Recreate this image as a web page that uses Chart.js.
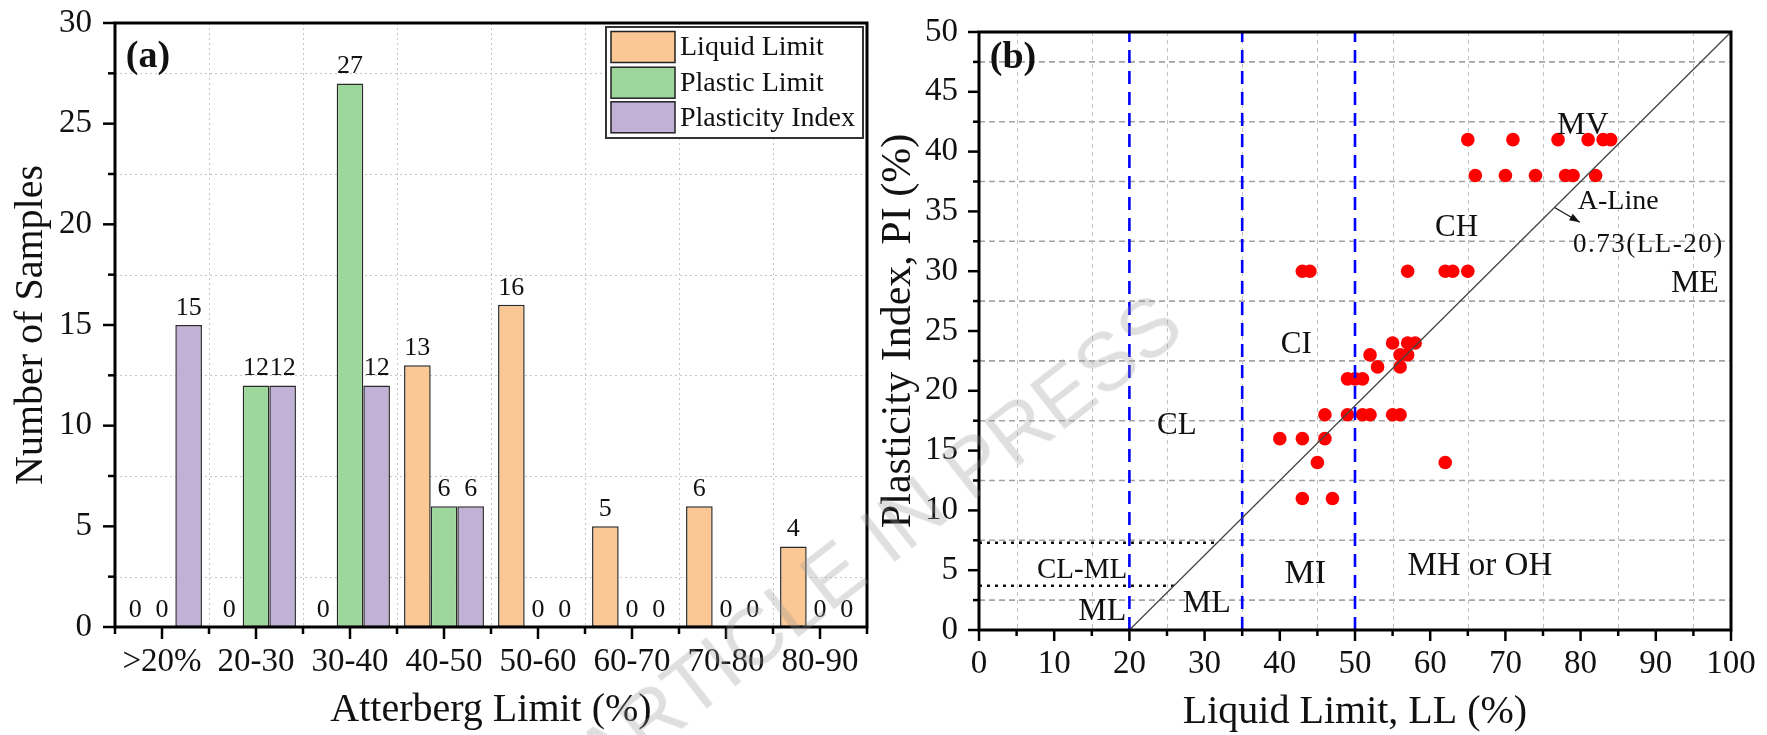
<!DOCTYPE html>
<html>
<head>
<meta charset="utf-8">
<script src="https://cdn.jsdelivr.net/npm/chart.js@4.4.1/dist/chart.umd.min.js"></script>
<style>
    body { margin: 0; width: 1767px; height: 735px; background: #fff; position: relative; overflow: hidden; }
    #chartA { position: absolute; left: 0; top: 0; }
    #chartB { position: absolute; left: 870px; top: 0; }
    #stamp {
        position: absolute; left: 878px; top: 540px;
        transform: translate(-50%, -50%) rotate(-38deg);
        font-family: 'Liberation Sans', Arial, sans-serif; font-size: 81px;
        color: rgba(150, 150, 150, 0.3); white-space: nowrap; pointer-events: none;
    }
</style>
</head>
<body>
<canvas id="chartA" width="872" height="735"></canvas>
<canvas id="chartB" width="897" height="735"></canvas>
<div id="stamp">ARTICLE IN PRESS</div>
<script>
var serif = "'Liberation Serif', 'Times New Roman', serif";

// (a) counts per range
var ranges = ['>20%', '20-30', '30-40', '40-50', '50-60', '60-70', '70-80', '80-90'];
var liquidLimit = [0, 0, 0, 13, 16, 5, 6, 4];
var plasticLimit = [0, 12, 27, 6, 0, 0, 0, 0];
var plasticityIndex = [15, 12, 12, 6, 0, 0, 0, 0];

// (b) samples on the plasticity chart
var sampleLL = [65, 71, 77, 81, 83, 84,
    66, 70, 74, 78, 79, 82,
    43, 44, 57, 62, 63, 65,
    55, 57, 58,
    52, 56, 57,
    53, 56,
    49, 50, 51,
    46, 49, 51, 52, 55, 56,
    40, 43, 46,
    45, 62,
    43, 47];
var samplePI = [41, 41, 41, 41, 41, 41,
    38, 38, 38, 38, 38, 38,
    30, 30, 30, 30, 30, 30,
    24, 24, 24,
    23, 23, 23,
    22, 22,
    21, 21, 21,
    18, 18, 18, 18, 18, 18,
    16, 16, 16,
    14, 14,
    11, 11];

// A-line and zone boundaries
var aLineLL = [20, 100];
var aLinePI = [0, 50];
var zoneLL = [20, 35, 50];
var ctMlPI = [7.3, 3.7];

function line(ctx, x1, y1, x2, y2) {
    ctx.beginPath();
    ctx.moveTo(x1, y1);
    ctx.lineTo(x2, y2);
    ctx.stroke();
}

function frame(ctx, area) {
    ctx.save();
    ctx.setLineDash([]);
    ctx.strokeStyle = '#000';
    ctx.lineWidth = 3;
    ctx.strokeRect(area.left, area.top, area.right - area.left, area.bottom - area.top);
    ctx.restore();
}

// fixed axis sizes so the plot area lands where we want it
function fixSize(w, h) {
    return function (s) {
        if (w) s.width = w;
        if (h) s.height = h;
        s.paddingTop = 0;
        s.paddingBottom = 0;
        s.paddingLeft = 0;
        s.paddingRight = 0;
    };
}

var gridA = {
    id: 'gridA',
    beforeDatasetsDraw: function (chart) {
        var ctx = chart.ctx, a = chart.chartArea;
        var xs = chart.scales.x, ys = chart.scales.y;
        ctx.save();
        ctx.strokeStyle = '#c6c6c6';
        ctx.lineWidth = 1;
        ctx.setLineDash([2, 3]);
        for (var v = 2.5; v < 30; v += 5) {
            var y = Math.round(ys.getPixelForValue(v)) + 0.5;
            line(ctx, a.left, y, a.right, y);
        }
        for (var i = 0; i < ranges.length - 1; i++) {
            var x = Math.round(xs.getPixelForValue(i + 0.5)) + 0.5;
            line(ctx, x, a.top, x, a.bottom);
        }
        ctx.restore();
    },
    afterDatasetsDraw: function (chart) {
        var ctx = chart.ctx, a = chart.chartArea;
        var xs = chart.scales.x, ys = chart.scales.y;

        // values above the bars
        ctx.save();
        ctx.fillStyle = '#111';
        ctx.font = '26px ' + serif;
        ctx.textAlign = 'center';
        ctx.textBaseline = 'bottom';
        chart.data.datasets.forEach(function (ds, d) {
            chart.getDatasetMeta(d).data.forEach(function (bar, i) {
                ctx.fillText(ds.data[i], bar.x, bar.y - 4);
            });
        });
        ctx.restore();

        frame(ctx, a);

        ctx.save();
        ctx.strokeStyle = '#000';
        ctx.lineWidth = 2.5;
        for (var v = 0; v <= 30; v += 2.5) {
            var y = ys.getPixelForValue(v);
            line(ctx, a.left - (v % 5 == 0 ? 12 : 7), y, a.left, y);
        }
        for (var i = -0.5; i <= ranges.length - 0.5; i += 0.5) {
            var x = xs.getPixelForValue(i);
            line(ctx, x, a.bottom, x, a.bottom + (Number.isInteger(i) ? 12 : 7));
        }
        ctx.restore();

        // panel tag
        ctx.save();
        ctx.fillStyle = '#111';
        ctx.font = 'bold 38px ' + serif;
        ctx.textAlign = 'center';
        ctx.textBaseline = 'middle';
        ctx.fillText('(a)', a.left + 33, a.top + 34);
        ctx.restore();

        // legend box
        var bw = 257, bh = 111;
        var bx = a.right - 4 - bw, by = a.top + 4;
        ctx.save();
        ctx.fillStyle = '#fff';
        ctx.fillRect(bx, by, bw, bh);
        ctx.strokeStyle = '#333';
        ctx.lineWidth = 2;
        ctx.strokeRect(bx, by, bw, bh);
        ctx.font = '28px ' + serif;
        ctx.textBaseline = 'middle';
        ctx.textAlign = 'left';
        var rows = [20, 55.7, 90.3];
        chart.data.datasets.forEach(function (ds, d) {
            var cy = by + rows[d];
            ctx.fillStyle = ds.backgroundColor;
            ctx.fillRect(bx + 5, cy - 15.5, 64, 31);
            ctx.strokeStyle = '#222';
            ctx.lineWidth = 1.5;
            ctx.strokeRect(bx + 5, cy - 15.5, 64, 31);
            ctx.fillStyle = '#111';
            ctx.fillText(ds.label, bx + 74, cy + 1);
        });
        ctx.restore();
    }
};

var graphA = new Chart(document.getElementById('chartA'), {
    type: 'bar',
    data: {
        labels: ranges,
        datasets: [{
            label: 'Liquid Limit',
            data: liquidLimit,
            backgroundColor: '#fbc794'
        }, {
            label: 'Plastic Limit',
            data: plasticLimit,
            backgroundColor: '#9ed79b'
        }, {
            label: 'Plasticity Index',
            data: plasticityIndex,
            backgroundColor: '#c1b1d6'
        }]
    },
    options: {
        responsive: false,
        animation: false,
        devicePixelRatio: 1,
        layout: { padding: { top: 23, right: 5, left: 0, bottom: 0 } },
        datasets: {
            bar: {
                categoryPercentage: 0.85,
                barPercentage: 1,
                borderColor: '#2a2a2a',
                borderWidth: 1.5,
                borderSkipped: false
            }
        },
        plugins: {
            legend: { display: false },
            tooltip: { enabled: false }
        },
        scales: {
            x: {
                grid: { display: false, drawTicks: false },
                border: { display: false },
                ticks: { color: '#111', font: { family: serif, size: 33 }, padding: 16, maxRotation: 0, autoSkip: false },
                title: { display: true, text: 'Atterberg Limit (%)', color: '#111', font: { family: serif, size: 40, lineHeight: 1 }, padding: { top: 0, bottom: 5 } },
                afterFit: fixSize(0, 108)
            },
            y: {
                min: 0,
                max: 30,
                grid: { display: false, drawTicks: false },
                border: { display: false },
                ticks: { stepSize: 5, color: '#111', font: { family: serif, size: 33 }, padding: 23 },
                title: { display: true, text: 'Number of Samples', color: '#111', font: { family: serif, size: 40, lineHeight: 1 }, padding: { top: 11, bottom: 0 } },
                afterFit: fixSize(115, 0)
            }
        }
    },
    plugins: [gridA]
});

// zone names and notes on the plasticity chart
var notes = [
    { text: 'CL', x: 26.3, y: 17.1, size: 31 },
    { text: 'CI', x: 42.2, y: 23.8, size: 31 },
    { text: 'CH', x: 63.5, y: 33.6, size: 31 },
    { text: 'MV', x: 80.3, y: 42.2, size: 32 },
    { text: 'CL-ML', x: 13.7, y: 5.0, size: 29 },
    { text: 'ML', x: 16.4, y: 1.5, size: 32 },
    { text: 'ML', x: 30.3, y: 2.2, size: 32 },
    { text: 'MI', x: 43.4, y: 4.7, size: 34 },
    { text: 'MH or OH', x: 66.6, y: 5.3, size: 33 },
    { text: 'A-Line', x: 85.0, y: 35.8, size: 28 },
    { text: '0.73(LL-20)', x: 89.0, y: 32.2, size: 27, spacing: '1.5px' },
    { text: 'ME', x: 95.2, y: 29.0, size: 32 }
];

var gridB = {
    id: 'gridB',
    beforeDatasetsDraw: function (chart) {
        var ctx = chart.ctx, a = chart.chartArea;
        var xs = chart.scales.x, ys = chart.scales.y;
        ctx.save();
        ctx.strokeStyle = '#a4a4a4';
        ctx.lineWidth = 1.6;
        ctx.setLineDash([6, 4]);
        for (var v = 2.5; v < 50; v += 5) {
            var y = ys.getPixelForValue(v);
            line(ctx, a.left, y, a.right, y);
        }
        ctx.strokeStyle = '#c2c2c2';
        ctx.lineWidth = 1;
        ctx.setLineDash([4, 4]);
        for (var u = 5; u < 100; u += 10) {
            var x = Math.round(xs.getPixelForValue(u)) + 0.5;
            line(ctx, x, a.top, x, a.bottom);
        }
        ctx.restore();
    },
    afterDatasetsDraw: function (chart) {
        var ctx = chart.ctx, a = chart.chartArea;
        var xs = chart.scales.x, ys = chart.scales.y;

        frame(ctx, a);

        ctx.save();
        ctx.strokeStyle = '#000';
        ctx.lineWidth = 2.5;
        for (var v = 0; v <= 50; v += 2.5) {
            var y = ys.getPixelForValue(v);
            line(ctx, a.left - (v % 5 == 0 ? 11 : 6), y, a.left, y);
        }
        for (var u = 0; u <= 100; u += 5) {
            var x = xs.getPixelForValue(u);
            line(ctx, x, a.bottom, x, a.bottom + (u % 10 == 0 ? 11 : 6));
        }
        ctx.restore();

        ctx.save();
        ctx.fillStyle = '#111';
        ctx.textAlign = 'center';
        ctx.textBaseline = 'middle';
        notes.forEach(function (n) {
            ctx.font = n.size + 'px ' + serif;
            ctx.letterSpacing = n.spacing || '0px';
            ctx.fillText(n.text, xs.getPixelForValue(n.x), ys.getPixelForValue(n.y));
        });
        ctx.letterSpacing = '0px';

        // arrow off the A-line
        var x1 = xs.getPixelForValue(76.6), y1 = ys.getPixelForValue(35.3);
        var x2 = xs.getPixelForValue(79.9), y2 = ys.getPixelForValue(34.1);
        ctx.strokeStyle = '#111';
        ctx.lineWidth = 1.2;
        line(ctx, x1, y1, x2, y2);
        var ang = Math.atan2(y2 - y1, x2 - x1);
        ctx.beginPath();
        ctx.moveTo(x2, y2);
        ctx.lineTo(x2 - 11 * Math.cos(ang - 0.35), y2 - 11 * Math.sin(ang - 0.35));
        ctx.lineTo(x2 - 11 * Math.cos(ang + 0.35), y2 - 11 * Math.sin(ang + 0.35));
        ctx.closePath();
        ctx.fill();

        ctx.font = 'bold 38px ' + serif;
        ctx.fillText('(b)', a.left + 34, a.top + 26);
        ctx.restore();
    }
};

var samples = sampleLL.map(function (ll, i) {
    return { x: ll, y: samplePI[i] };
});

var boundaryLines = zoneLL.map(function (ll) {
    return {
        type: 'line',
        data: [{ x: ll, y: 0 }, { x: ll, y: 50 }],
        borderColor: '#0000ff',
        borderWidth: 2.6,
        borderDash: [13, 8],
        pointRadius: 0,
        order: 1
    };
});

var ctMlLines = ctMlPI.map(function (pi) {
    // dotted line runs from the axis to the A-line
    var end = aLineLL[0] + pi * (aLineLL[1] - aLineLL[0]) / (aLinePI[1] - aLinePI[0]);
    return {
        type: 'line',
        data: [{ x: 0, y: pi }, { x: end, y: pi }],
        borderColor: '#111',
        borderWidth: 2.6,
        borderDash: [3, 5],
        pointRadius: 0,
        order: 1
    };
});

var graphB = new Chart(document.getElementById('chartB'), {
    type: 'scatter',
    data: {
        datasets: [{
            type: 'line',
            label: 'A-Line',
            data: [{ x: aLineLL[0], y: aLinePI[0] }, { x: aLineLL[1], y: aLinePI[1] }],
            borderColor: '#444',
            borderWidth: 1.3,
            pointRadius: 0,
            order: 0
        }, {
            label: 'Samples',
            data: samples,
            backgroundColor: '#ff0000',
            borderWidth: 0,
            pointRadius: 6.8,
            order: 5
        }].concat(boundaryLines, ctMlLines)
    },
    options: {
        responsive: false,
        animation: false,
        devicePixelRatio: 1,
        layout: { padding: { top: 32, right: 36, left: 0, bottom: 0 } },
        plugins: {
            legend: { display: false },
            tooltip: { enabled: false }
        },
        scales: {
            x: {
                type: 'linear',
                min: 0,
                max: 100,
                grid: { display: false, drawTicks: false },
                border: { display: false },
                ticks: { stepSize: 10, color: '#111', font: { family: serif, size: 33 }, padding: 15 },
                title: { display: true, text: 'Liquid Limit, LL (%)', color: '#111', font: { family: serif, size: 40, lineHeight: 1 }, padding: { top: 0, bottom: 3 } },
                afterFit: fixSize(0, 105)
            },
            y: {
                min: 0,
                max: 50,
                grid: { display: false, drawTicks: false },
                border: { display: false },
                ticks: { stepSize: 5, color: '#111', font: { family: serif, size: 33 }, padding: 21 },
                title: { display: true, text: 'Plasticity Index, PI (%)', color: '#111', font: { family: serif, size: 42, lineHeight: 1 }, padding: { top: 8, bottom: 0 } },
                afterFit: fixSize(109, 0)
            }
        }
    },
    plugins: [gridB]
});
</script>
</body>
</html>
